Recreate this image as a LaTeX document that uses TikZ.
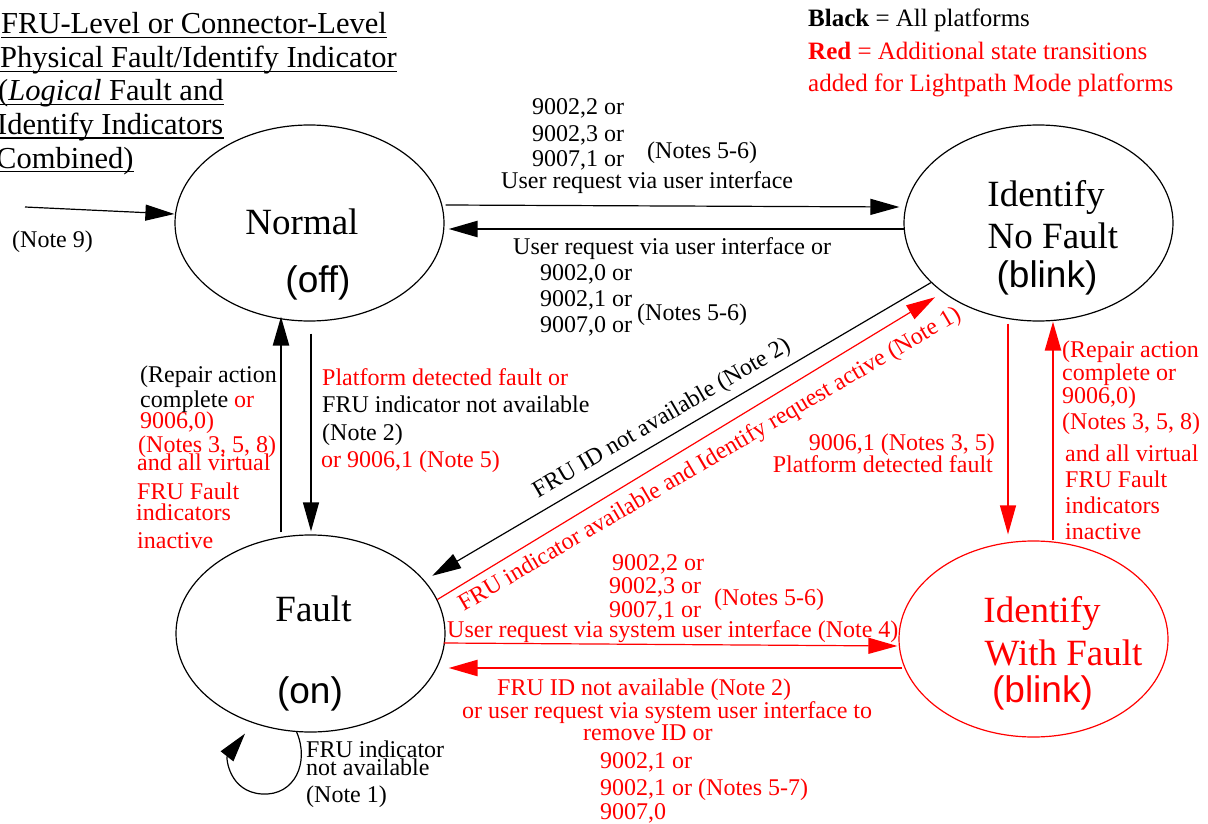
\documentclass[tikz,border=0pt]{standalone}
\usepackage{fontspec}
\setmainfont{Liberation Serif}
\newfontfamily\sansfam{Liberation Sans}
\usetikzlibrary{arrows.meta,shapes.geometric}
\definecolor{lpred}{RGB}{255,0,0}

\tikzset{
  state/.style={ellipse, draw, line width=1.2pt, minimum width=269pt,
                minimum height=196pt, inner sep=0pt},
  statetxt/.style={font=\fontsize{37}{40}\selectfont, inner sep=0pt, anchor=base},
  statesans/.style={font=\sansfam\fontsize{37}{40}\selectfont, inner sep=0pt, anchor=base},
  lbl/.style={font=\fontsize{24}{26}\selectfont, inner sep=0pt, anchor=base west},
  lblr/.style={lbl, anchor=base east},
  rd/.style={text=lpred},
  tip/.style={-{Triangle[length=29pt,width=16pt]}},
  wire/.style={line width=1.2pt},
  boldwire/.style={line width=2.4pt},
  title/.style={font=\fontsize{30.5}{33}\selectfont, inner sep=0pt, anchor=base west},
  legend/.style={font=\fontsize{25}{32}\selectfont, inner sep=0pt, anchor=base west},
}

\begin{document}
\begin{tikzpicture}[x=1pt,y=-1pt]
\useasboundingbox (0,0) rectangle (1208,824);

% ---- states ----
\node[state] (normal) at (309.5,223) {};
\node[state] (idnf) at (1038.5,223) {};
\node[state, minimum height=197pt] (fault) at (310.5,633.5) {};
\node[state, draw=lpred] (idwf) at (1033.5,639) {};

\node[statetxt] (tnormal) at (302,234) {Normal};
\node[statesans] (toff) at (318,292) {(off)};
\node[statetxt] (tidnf1) at (1046,206) {Identify};
\node[statetxt] (tidnf2) at (1053,248) {No Fault};
\node[statesans] (tidnf3) at (1047,287) {(blink)};
\node[statetxt] (tfault) at (313.5,621) {Fault};
\node[statesans] (ton) at (310,703) {(on)};
\node[statetxt, rd] (tidwf1) at (1042,622) {Identify};
\node[statetxt, rd] (tidwf2) at (1063.5,665) {With Fault};
\node[statesans, rd] (tidwf3) at (1042.5,702) {(blink)};

% ---- heading (underlined) ----
\node[title] (h1) at (1,34) {FRU-Level or Connector-Level};
\node[title] (h2) at (0,68) {Physical Fault/Identify Indicator};
\node[title] (h3) at (-2,101) {(\textit{Logical} Fault and};
\node[title] (h4) at (-3,134.5) {Identify Indicators};
\node[title] (h5) at (-4,168) {Combined)};
\foreach \h in {h1,h2,h3,h4,h5}
  \draw[line width=1.3pt] ([yshift=-3.5pt]\h.base west) -- ([yshift=-3.5pt]\h.base east);

% ---- legend ----
\node[legend] (k1) at (808,27) {\textbf{Black} = All platforms};
\node[legend, rd] (k2) at (808,60) {\textbf{Red} = Additional state transitions};
\node[legend, rd] (k3) at (808,92) {added for Lightpath Mode platforms};

% ---- initial transition ----
\coordinate (entry) at (25,207);
\draw[wire, tip] (entry) -- ([yshift=9pt]normal.west);
\node[lbl] (n9) at (12,247) {(Note 9)};

% ---- Normal <-> Identify No Fault ----
\draw[wire, tip] ([xshift=1pt,yshift=18pt]normal.east) -- ([xshift=-4pt,yshift=16pt]idnf.west);
\draw[boldwire, tip] ([xshift=1pt,yshift=-6pt]idnf.west) -- ([xshift=4pt,yshift=-6pt]normal.east);

\node[lbl] (a1) at (532,115) {9002,2 or};
\node[lbl] (a2) at (532,142) {9002,3 or};
\node[lbl] (a3) at (532,167) {9007,1 or};
\node[lbl] (a4) at (647,159) {(Notes 5-6)};
\node[lbl] (a5) at (501,189) {User request via user interface};

\node[lbl] (b1) at (513,254) {User request via user interface or};
\node[lbl] (b2) at (540,280) {9002,0 or};
\node[lbl] (b3) at (540,306) {9002,1 or};
\node[lbl] (b4) at (540,332) {9007,0 or};
\node[lbl] (b5) at (637,320) {(Notes 5-6)};

% ---- Normal <-> Fault ----
\draw[boldwire, tip] ([xshift=-29.5pt,yshift=2pt]fault.north) -- ([xshift=-28.5pt,yshift=5pt]normal.south);
\draw[wire, tip] ([xshift=1.5pt,yshift=-12pt]normal.south) -- ([xshift=0.5pt,yshift=3pt]fault.north);

\node[lbl] (c1) at (140,382) {(Repair action};
\node[lbl] (c2) at (140,407) {complete \textcolor{lpred}{or}};
\node[lbl, rd] (c3) at (140,428) {9006,0)};
\node[lbl, rd] (c4) at (138,452) {(Notes 3, 5, 8)};
\node[lbl, rd] (c5) at (137,470) {and all virtual};
\node[lbl, rd] (c6) at (137,499) {FRU Fault};
\node[lbl, rd] (c7) at (136,520) {indicators};
\node[lbl, rd] (c8) at (137,548) {inactive};

\node[lbl, rd] (e1) at (322,385) {Platform detected fault or};
\node[lbl] (e2) at (322,412) {FRU indicator not available};
\node[lbl] (e3) at (322,440) {(Note 2)};
\node[lbl, rd] (e4) at (321,467) {or 9006,1 (Note 5)};

% ---- diagonals ----
\draw[wire, tip, shorten >=9pt] (idnf.209) -- (fault.25);
\draw[wire, lpred, tip, shorten >=9pt] (fault.15) -- (idnf.216);
\node[lbl, anchor=center, rotate=30.4] (d1) at (662,419) {FRU ID not available (Note 2)};
\node[lbl, rd, anchor=center, rotate=30.5] (d2) at (710,460)
  {FRU indicator available and Identify request active (Note 1)};

% ---- Identify No Fault <-> Identify With Fault ----
\draw[wire, lpred, tip] ([xshift=-30.5pt,yshift=-2pt]idnf.south) -- ([xshift=-25.5pt,yshift=6pt]idwf.north);
\draw[boldwire, lpred, tip] ([xshift=19.5pt]idwf.north) -- ([xshift=14.5pt]idnf.south);

\node[lblr, rd] (f1) at (995,450) {9006,1 (Notes 3, 5)};
\node[lblr, rd] (f2) at (993,472) {Platform detected fault};

\node[lbl, rd] (g1) at (1062,357) {(Repair action};
\node[lbl, rd] (g2) at (1062,380) {complete or};
\node[lbl, rd] (g3) at (1062,403) {9006,0)};
\node[lbl, rd] (g4) at (1062,429) {(Notes 3, 5, 8)};
\node[lbl, rd] (g5) at (1065,461) {and all virtual};
\node[lbl, rd] (g6) at (1065,487) {FRU Fault};
\node[lbl, rd] (g7) at (1065,513) {indicators};
\node[lbl, rd] (g8) at (1065,539) {inactive};

% ---- Fault <-> Identify With Fault ----
\draw[wire, lpred, tip] ([xshift=-2pt,yshift=-9.5pt]fault.east) -- ([xshift=-1pt,yshift=-7pt]idwf.west);
\draw[boldwire, lpred, tip] ([xshift=4pt,yshift=-29pt]idwf.west) -- ([xshift=3pt,yshift=-34.5pt]fault.east);

\node[lbl, rd] (p1) at (612,570) {9002,2 or};
\node[lbl, rd] (p2) at (609,593) {9002,3 or};
\node[lbl, rd] (p3) at (609,617) {9007,1 or};
\node[lbl, rd] (p4) at (714,605) {(Notes 5-6)};
\node[lbl, rd] (p5) at (447,637) {User request via system user interface (Note 4)};

\node[lbl, rd] (q1) at (497,695) {FRU ID not available (Note 2)};
\node[lbl, rd] (q2) at (462,718) {or user request via system user interface to};
\node[lbl, rd] (q3) at (583,740) {remove ID or};
\node[lbl, rd] (q4) at (600,768) {9002,1 or};
\node[lbl, rd] (q5) at (600,795) {9002,1 or (Notes 5-7)};
\node[lbl, rd] (q6) at (600,819) {9007,0};

% ---- Fault self-loop ----
\draw[wire, tip] (fault.262) .. controls +(13,30) and +(33,2) .. (262,794)
  .. controls +(-33,-2) and +(-19,24) .. ([xshift=-65.5pt,yshift=-1pt]fault.south);
\node[lbl] (s1) at (306,757) {FRU indicator};
\node[lbl] (s2) at (306,775) {not available};
\node[lbl] (s3) at (306,802) {(Note 1)};

\end{tikzpicture}
\end{document}
